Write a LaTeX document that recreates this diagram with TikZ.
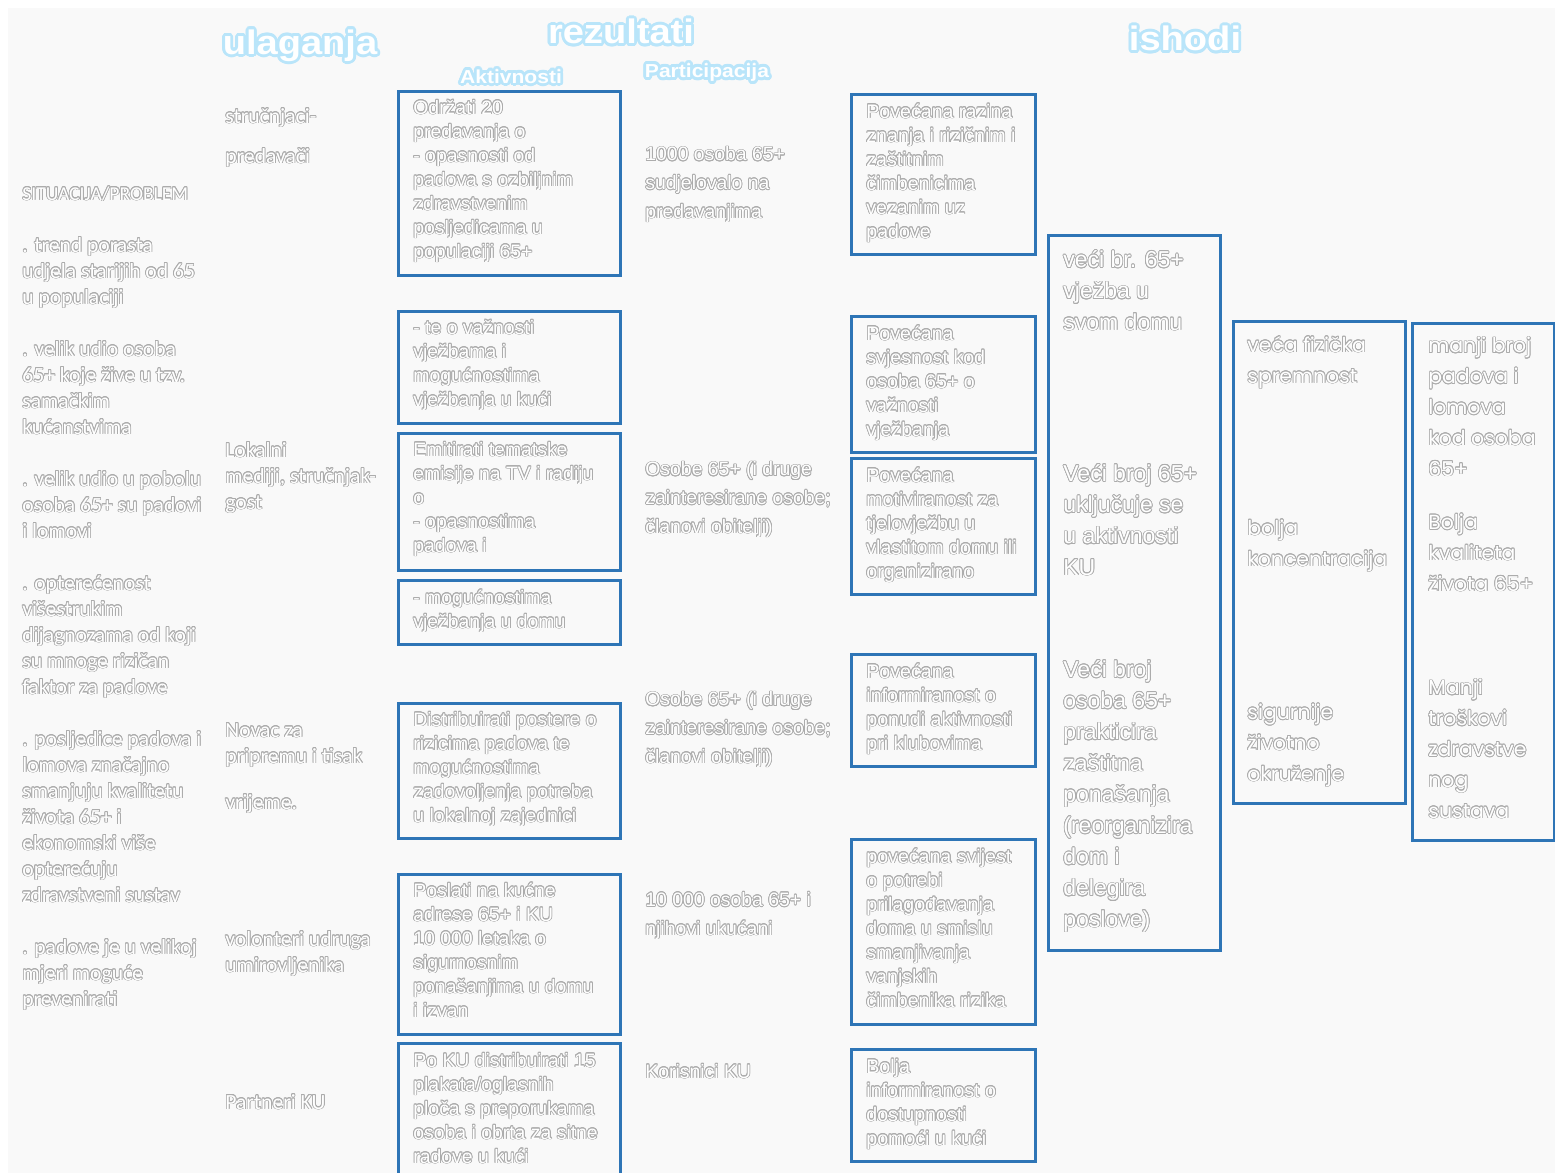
\documentclass[tikz,border=0pt]{standalone}
\usepackage{fontspec}
\setmainfont{Carlito}
\newfontfamily\arf{Liberation Sans}
\newfontfamily\ppf{Poppins}
\newfontfamily\hdf[FakeStretch=1.12]{Liberation Sans}
\usepackage{contour}
\contourlength{0.38pt}
\contournumber{16}
\usetikzlibrary{fit}
\definecolor{bxc}{RGB}{46,117,182}
\definecolor{olc}{RGB}{172,172,172}
\definecolor{glc}{RGB}{185,229,250}
\definecolor{bgc}{RGB}{249,249,249}
\newcommand{\otx}[1]{\contour{olc}{#1}}
\newcommand{\gtx}[1]{{\contourlength{1.4pt}\contour{glc}{#1}}}
\begin{document}
\begin{tikzpicture}[x=0.5pt,y=-0.5pt,
  bx/.style={draw=bxc, line width=1.5pt, inner sep=0pt},
  tl/.style={anchor=base west, inner sep=0pt, align=left, text=white},
  lc/.style={tl, font=\fontsize{10.8}{13}\selectfont},
  ac/.style={tl, font=\arf\fontsize{9.7}{12}\selectfont},
  pc/.style={tl, font=\arf\fontsize{9.7}{14.3}\selectfont},
  oc/.style={tl, font=\arf\fontsize{9.8}{12}\selectfont},
  bc/.style={tl, font=\arf\fontsize{11.5}{15.6}\selectfont},
  rc/.style={tl, font=\ppf\fontsize{10.2}{15.4}\selectfont},
  hd/.style={anchor=center, inner sep=0pt, text=white, font=\hdf\bfseries\fontsize{17}{20}\selectfont},
  sh/.style={anchor=center, inner sep=0pt, text=white, font=\hdf\bfseries\fontsize{9.4}{11}\selectfont}]
\clip (0,0) rectangle (1555,1173);
\fill[white] (0,0) rectangle (1555,1173);
\fill[bgc] (8,8) rectangle (1555,1173);

% headers
\node[hd] (hul) at (300,47) {\gtx{ulaganja}};
\node[hd] (hrez) at (621,33) {\gtx{rezultati}};
\node[hd] (hish) at (1185,40) {\gtx{ishodi}};
\node[sh] (hakt) at (511,78) {\gtx{Aktivnosti}};
\node[sh] (hpar) at (707,74) {\gtx{Participacija}};

% situation column (anchors are at the baseline of the last line)
\node[lc] (sit) at (22,1006) {{\fontsize{9.8}{13}\selectfont\otx{SITUACIJA/PROBLEM}}\\[13pt]
\otx{. trend porasta}\\\otx{udjela starijih od 65}\\\otx{u populaciji}\\[13pt]
\otx{. velik udio osoba}\\\otx{65+ koje žive u tzv.}\\\otx{samačkim}\\\otx{kućanstvima}\\[13pt]
\otx{. velik udio u pobolu}\\\otx{osoba 65+ su padovi}\\\otx{i lomovi}\\[13pt]
\otx{. opterećenost}\\\otx{višestrukim}\\\otx{dijagnozama od koji}\\\otx{su mnoge rizičan}\\\otx{faktor za padove}\\[13pt]
\otx{. posljedice padova i}\\\otx{lomova značajno}\\\otx{smanjuju kvalitetu}\\\otx{života 65+ i}\\\otx{ekonomski više}\\\otx{opterećuju}\\\otx{zdravstveni sustav}\\[13pt]
\otx{. padove je u velikoj}\\\otx{mjeri moguće}\\\otx{prevenirati}};

% inputs column
\node[lc, font=\fontsize{10.8}{20}\selectfont] (u1) at (225,163) {\otx{stručnjaci-}\\\otx{predavači}};
\node[lc] (u2) at (225,509) {\otx{Lokalni}\\\otx{mediji, stručnjak-}\\\otx{gost}};
\node[lc] (u3) at (225,763) {\otx{Novac za}\\\otx{pripremu i tisak}};
\node[lc] (u4) at (225,809) {\otx{vrijeme.}};
\node[lc] (u5) at (225,972) {\otx{volonteri udruga}\\\otx{umirovljenika}};
\node[lc] (u6) at (225,1109) {\otx{Partneri KU}};

% activity boxes
\node[bx, fit={(398,91)(620,275)}] (a1) {};
\node[bx, fit={(398,311)(620,423)}] (a2) {};
\node[bx, fit={(398,433)(620,570)}] (a3) {};
\node[bx, fit={(398,580)(620,644)}] (a4) {};
\node[bx, fit={(398,703)(620,838)}] (a5) {};
\node[bx, fit={(398,874)(620,1034)}] (a6) {};
\node[bx, fit={(398,1043)(620,1190)}] (a7) {};
\node[ac] (ta1) at (413,258) {\otx{Održati 20}\\\otx{predavanja o}\\\otx{- opasnosti od}\\\otx{padova s ozbiljnim}\\\otx{zdravstvenim}\\\otx{posljedicama u}\\\otx{populaciji 65+}};
\node[ac] (ta2) at (413,406) {\otx{- te o važnosti}\\\otx{vježbama i}\\\otx{mogućnostima}\\\otx{vježbanja u kući}};
\node[ac] (ta3) at (413,552) {\otx{Emitirati tematske}\\\otx{emisije na TV i radiju}\\\otx{o}\\\otx{- opasnostima}\\\otx{padova i}};
\node[ac] (ta4) at (413,628) {\otx{- mogućnostima}\\\otx{vježbanja u domu}};
\node[ac] (ta5) at (413,822) {\otx{Distribuirati postere  o}\\\otx{rizicima padova te}\\\otx{mogućnostima}\\\otx{zadovoljenja potreba}\\\otx{u lokalnoj zajednici}};
\node[ac] (ta6) at (413,1017) {\otx{Poslati na kućne}\\\otx{adrese 65+ i KU}\\\otx{10 000 letaka o}\\\otx{sigurnosnim}\\\otx{ponašanjima u domu}\\\otx{i izvan}};
\node[ac] (ta7) at (413,1163) {\otx{Po KU distribuirati 15}\\\otx{plakata/oglasnih}\\\otx{ploča  s preporukama}\\\otx{osoba i obrta za sitne}\\\otx{radove u kući}};

% participation
\node[pc] (p1) at (645,218) {\otx{1000 osoba 65+}\\\otx{sudjelovalo na}\\\otx{predavanjima}};
\node[pc] (p2) at (645,533) {\otx{Osobe 65+ (i druge}\\\otx{zainteresirane osobe;}\\\otx{članovi obitelji)}};
\node[pc] (p3) at (645,763) {\otx{Osobe 65+ (i druge}\\\otx{zainteresirane osobe;}\\\otx{članovi obitelji)}};
\node[pc] (p4) at (645,935) {\otx{10 000 osoba 65+ i}\\\otx{njihovi ukućani}};
\node[pc] (p5) at (645,1078) {\otx{Korisnici KU}};

% short-term outcomes
\node[bx, fit={(851,94)(1035,254)}] (o1) {};
\node[bx, fit={(851,316)(1035,452)}] (o2) {};
\node[bx, fit={(851,458)(1035,594)}] (o3) {};
\node[bx, fit={(851,654)(1035,766)}] (o4) {};
\node[bx, fit={(851,839)(1035,1024)}] (o5) {};
\node[bx, fit={(851,1049)(1035,1161)}] (o6) {};
\node[oc] (to1) at (866,238) {\otx{Povećana razina}\\\otx{znanja i rizičnim i}\\\otx{zaštitnim}\\\otx{čimbenicima}\\\otx{vezanim uz}\\\otx{padove}};
\node[oc] (to2) at (866,436) {\otx{Povećana}\\\otx{svjesnost  kod}\\\otx{osoba 65+ o}\\\otx{važnosti}\\\otx{vježbanja}};
\node[oc] (to3) at (866,578) {\otx{Povećana}\\\otx{motiviranost za}\\\otx{tjelovježbu u}\\\otx{vlastitom domu ili}\\\otx{organizirano}};
\node[oc] (to4) at (866,750) {\otx{Povećana}\\\otx{informiranost o}\\\otx{ponudi aktivnosti}\\\otx{pri klubovima}};
\node[oc] (to5) at (866,1007) {\otx{povećana svijest}\\\otx{o potrebi}\\\otx{prilagođavanja}\\\otx{doma  u smislu}\\\otx{smanjivanja}\\\otx{vanjskih}\\\otx{čimbenika rizika}};
\node[oc] (to6) at (866,1145) {\otx{Bolja}\\\otx{informiranost o}\\\otx{dostupnosti}\\\otx{pomoći u kući}};

% medium-term outcomes
\node[bx, fit={(1048,235)(1220,950)}] (m1) {};
\node[bc] (tm1) at (1063,330) {\otx{veći br. 65+}\\\otx{vježba u}\\\otx{svom domu}};
\node[bc] (tm2) at (1063,575) {\otx{Veći broj 65+}\\\otx{uključuje se}\\\otx{u aktivnosti}\\\otx{KU}};
\node[bc] (tm3) at (1063,927) {\otx{Veći broj}\\\otx{osoba 65+}\\\otx{prakticira}\\\otx{zaštitna}\\\otx{ponašanja}\\\otx{(reorganizira}\\\otx{dom i}\\\otx{delegira}\\\otx{poslove)}};

% long-term outcomes
\node[bx, fit={(1233,321)(1405,803)}] (r1) {};
\node[rc] (tr1) at (1247,383) {\otx{veća fizička}\\\otx{spremnost}};
\node[rc] (tr2) at (1247,566) {\otx{bolja}\\\otx{koncentracija}};
\node[rc] (tr3) at (1247,781) {\otx{sigurnije}\\\otx{životno}\\\otx{okruženje}};
\node[bx, fit={(1412,323)(1554,840)}] (r2) {};
\node[rc] (ts1) at (1428,476) {\otx{manji broj}\\\otx{padova  i}\\\otx{lomova}\\\otx{kod osoba}\\\otx{65+}};
\node[rc] (ts2) at (1428,591) {\otx{Bolja}\\\otx{kvaliteta}\\\otx{života 65+}};
\node[rc] (ts3) at (1428,818) {\otx{Manji}\\\otx{troškovi}\\\otx{zdravstve}\\\otx{nog}\\\otx{sustava}};
\end{tikzpicture}
\end{document}
